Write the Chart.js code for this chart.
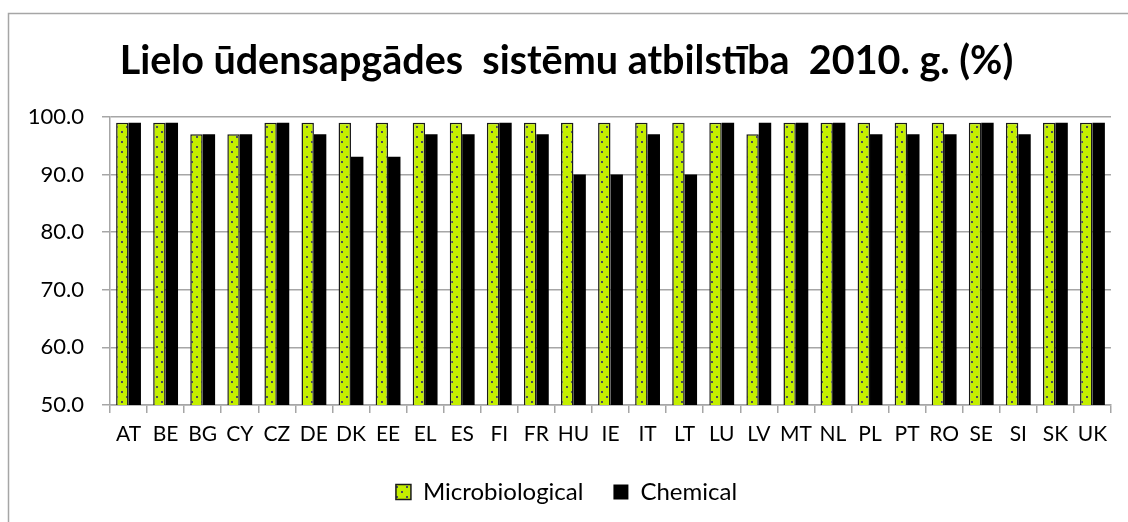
<!DOCTYPE html>
<html>
<head>
<meta charset="utf-8">
<script src="https://cdn.jsdelivr.net/npm/chart.js@4.4.1/dist/chart.umd.min.js"></script>
<style>
  html, body { margin: 0; padding: 0; background: #fff; }
  #wrap { width: 1128px; height: 522px; }
</style>
</head>
<body>
<div id="wrap"><canvas id="bar-chart" width="1128" height="522"></canvas></div>
<script>
var countries = ['AT', 'BE', 'BG', 'CY', 'CZ', 'DE', 'DK', 'EE', 'EL', 'ES', 'FI', 'FR', 'HU', 'IE', 'IT', 'LT', 'LU', 'LV', 'MT', 'NL', 'PL', 'PT', 'RO', 'SE', 'SI', 'SK', 'UK'];
var microbiological = [99, 99, 97, 97, 99, 99, 99, 99, 99, 99, 99, 99, 99, 99, 99, 99, 99, 97, 99, 99, 99, 99, 99, 99, 99, 99, 99];
var chemical = [99, 99, 97, 97, 99, 97, 93.1, 93.1, 97, 97, 99, 97, 90, 90, 97, 90, 99, 99, 99, 99, 97, 97, 97, 99, 97, 99, 99];
var seriesNames = ['Microbiological', 'Chemical'];
var yTicks = [50, 60, 70, 80, 90, 100];
var chartTitle = 'Lielo ūdensapgādes  sistēmu atbilstība  2010. g. (%)';

var font = 'Lato';

// zaļš ar punktiem, kā excelī
function dottedPattern() {
    var c = document.createElement('canvas');
    c.width = 10;
    c.height = 10;
    var g = c.getContext('2d');
    g.fillStyle = '#c4ef00';
    g.fillRect(0, 0, 10, 10);
    g.fillStyle = '#4b4b5c';
    g.fillRect(1, 1, 2, 2);
    g.fillRect(6, 6, 2, 2);
    return g.createPattern(c, 'repeat');
}

var frame = {
    id: 'frame',
    beforeDraw: function(chart) {
        var ctx = chart.ctx;
        ctx.save();
        ctx.fillStyle = '#fff';
        ctx.fillRect(0, 0, chart.width, chart.height);
        ctx.strokeStyle = '#a6a6a6';
        ctx.lineWidth = 1.5;
        ctx.strokeRect(8.5, 13.5, 1400, 800);
        ctx.restore();
    }
};

var ctx = document.getElementById('bar-chart').getContext('2d');
var barChart = new Chart(ctx, {
    type: 'bar',
    data: {
        labels: countries,
        datasets: [{
            label: seriesNames[0],
            data: microbiological,
            backgroundColor: dottedPattern(),
            borderColor: '#1a1a1a',
            borderWidth: 1.5,
            borderSkipped: false
        }, {
            label: seriesNames[1],
            data: chemical,
            backgroundColor: '#000',
            borderColor: '#000',
            borderWidth: 0
        }]
    },
    options: {
        responsive: false,
        animation: false,
        layout: {
            padding: { left: 22, right: 17, top: 0, bottom: 8 }
        },
        datasets: {
            bar: { categoryPercentage: 0.67, barPercentage: 1.0 }
        },
        scales: {
            x: {
                grid: { drawOnChartArea: false, drawTicks: true, tickLength: 8, color: '#a6a6a6', lineWidth: 1.5 },
                border: { color: '#a6a6a6', width: 1.5 },
                ticks: { color: '#000', font: { family: font, size: 21 }, padding: 9, maxRotation: 0, autoSkip: false },
                afterFit: function(scale) { scale.height = 45; }
            },
            y: {
                min: 50,
                max: 100,
                afterBuildTicks: function(scale) {
                    scale.ticks = yTicks.map(function(v) { return { value: v }; });
                },
                grid: { color: '#a6a6a6', lineWidth: 1.5, tickLength: 8 },
                border: { color: '#a6a6a6', width: 1.5 },
                ticks: {
                    color: '#000',
                    font: { family: font, size: 22 },
                    padding: 18,
                    callback: function(v) { return Number(v).toFixed(1); }
                },
                afterFit: function(scale) { scale.width = 88; }
            }
        },
        plugins: {
            title: {
                display: true,
                text: chartTitle,
                color: '#000',
                font: { family: font, size: 39.5, weight: 'bold', lineHeight: 1.2 },
                padding: { top: 38, bottom: 31.6 }
            },
            legend: {
                position: 'bottom',
                labels: {
                    color: '#000',
                    font: { family: font, size: 24 },
                    boxWidth: 15,
                    boxHeight: 15,
                    padding: 30
                }
            },
            tooltip: { enabled: false }
        }
    },
    plugins: [frame]
});
</script>
</body>
</html>
